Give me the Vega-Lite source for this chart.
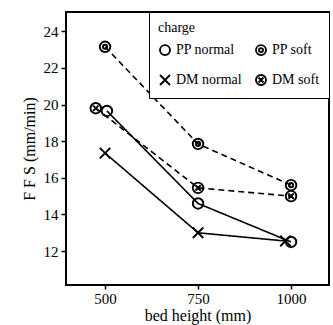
{
  "$schema": "https://vega.github.io/schema/vega-lite/v6.json",
  "width": 263,
  "height": 273,
  "autosize": {"type": "none"},
  "padding": {"left": 66, "top": 12, "right": 4, "bottom": 40},
  "background": "white",
  "config": {
    "font": "Liberation Serif",
    "view": {"stroke": "black", "strokeWidth": 2},
    "axis": {"grid": false, "domain": false, "tickColor": "black", "tickWidth": 1.5, "labelColor": "black", "titleColor": "black", "labelFont": "Liberation Serif", "titleFont": "Liberation Serif", "titleFontWeight": "normal"}
  },
  "data": {
    "values": [
      {"bed": 505, "ffs": 19.65, "series": "PP normal", "charge": "normal"},
      {"bed": 750, "ffs": 14.6, "series": "PP normal", "charge": "normal"},
      {"bed": 1000, "ffs": 12.5, "series": "PP normal", "charge": "normal"},
      {"bed": 500, "ffs": 17.35, "series": "DM normal", "charge": "normal"},
      {"bed": 750, "ffs": 13.0, "series": "DM normal", "charge": "normal"},
      {"bed": 985, "ffs": 12.55, "series": "DM normal", "charge": "normal"},
      {"bed": 500, "ffs": 23.15, "series": "PP soft", "charge": "soft"},
      {"bed": 750, "ffs": 17.85, "series": "PP soft", "charge": "soft"},
      {"bed": 1000, "ffs": 15.6, "series": "PP soft", "charge": "soft"},
      {"bed": 475, "ffs": 19.8, "series": "DM soft", "charge": "soft"},
      {"bed": 750, "ffs": 15.45, "series": "DM soft", "charge": "soft"},
      {"bed": 1000, "ffs": 15.0, "series": "DM soft", "charge": "soft"}
    ]
  },
  "encoding": {
    "x": {"field": "bed", "type": "quantitative", "scale": {"domain": [395, 1102], "nice": false, "zero": false},
      "axis": {"values": [500, 750, 1000], "format": "d", "title": "bed height  (mm)", "labelFontSize": 15, "titleFontSize": 16, "tickSize": 4, "labelPadding": 2, "titlePadding": 1, "labelFlush": false}},
    "y": {"field": "ffs", "type": "quantitative", "scale": {"domain": [10.15, 25.05], "nice": false, "zero": false},
      "axis": {"values": [12, 14, 16, 18, 20, 22, 24], "title": "F F S  (mm/min)", "labelFontSize": 15, "titleFontSize": 16, "tickSize": 5, "labelPadding": 3, "titlePadding": 6}}
  },
  "layer": [
    {
      "mark": {"type": "line", "color": "black", "strokeWidth": 1.6},
      "encoding": {
        "detail": {"field": "series"},
        "strokeDash": {"field": "charge", "type": "nominal", "scale": {"domain": ["normal", "soft"], "range": [[1, 0], [6, 4]]}, "legend": null}
      }
    },
    {
      "mark": {"type": "point", "filled": false, "color": "black", "opacity": 1, "strokeWidth": 1.9},
      "encoding": {
        "shape": {"field": "series", "type": "nominal",
          "scale": {"domain": ["PP normal", "DM normal", "PP soft", "DM soft"],
            "range": [
              "M1,0A1,1,0,1,1,-1,0A1,1,0,1,1,1,0Z",
              "M-1,-1L1,1M-1,1L1,-1",
              "M1,0A1,1,0,1,1,-1,0A1,1,0,1,1,1,0ZM0.4,0A0.4,0.4,0,1,1,-0.4,0A0.4,0.4,0,1,1,0.4,0Z",
              "M1,0A1,1,0,1,1,-1,0A1,1,0,1,1,1,0ZM-0.5,-0.5L0.5,0.5M-0.5,0.5L0.5,-0.5"
            ]},
          "legend": {"title": "charge", "orient": "top-right", "offset": 0, "columns": 2, "strokeColor": "black", "fillColor": "white", "padding": 9, "titleFontSize": 14, "titleFontWeight": "normal", "labelFontSize": 14, "symbolSize": 100, "symbolStrokeWidth": 1.9, "symbolOpacity": 1, "rowPadding": 12, "columnPadding": 10, "labelColor": "black", "titleColor": "black", "titlePadding": 8}
        },
        "size": {"value": 110}
      }
    }
  ]
}
